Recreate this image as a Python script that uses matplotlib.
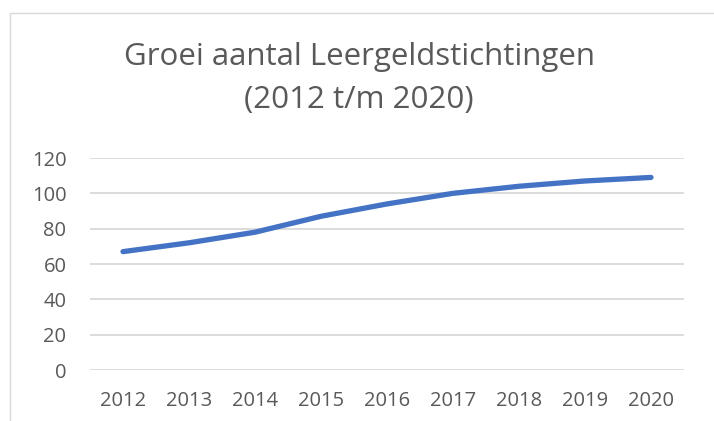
import matplotlib
matplotlib.use("Agg")
import matplotlib.pyplot as plt
from matplotlib.patches import Rectangle

years = ["2012", "2013", "2014", "2015", "2016", "2017", "2018", "2019", "2020"]
counts = [67, 72, 78, 87, 94, 100, 104, 107, 109]
yticks = [0, 20, 40, 60, 80, 100, 120]

plt.rcParams['font.family'] = ['Open Sans', 'DejaVu Sans']

W, H = 714, 421
fig = plt.figure(figsize=(W/100, H/100), dpi=100)
fig.patch.set_facecolor('white')

# chart border (cropped at right and bottom)
fig.patches.append(Rectangle((10/W, -0.1), 1.2, 1 - 13/H + 0.1, transform=fig.transFigure,
                             fill=False, edgecolor='#D9D9D9', linewidth=1.0))

ax = fig.add_axes([90/W, 1 - 370/H, (684-90)/W, (370-158)/H])
x = list(range(len(years)))
ax.plot(x, counts, color='#4472C4', linewidth=3.8, solid_capstyle='round', solid_joinstyle='round', zorder=3)
ax.set_xlim(-0.5, len(years) - 0.5)
ax.set_ylim(0, 120)
ax.set_yticks(yticks)
ax.set_xticks(x)
ax.set_xticklabels(years)
ax.grid(axis='y', color='#D9D9D9', linewidth=1.3)
ax.set_axisbelow(True)
for s in ax.spines.values():
    s.set_visible(False)
ax.tick_params(axis='both', length=0, labelcolor='#595959', labelsize=14.5)
ax.tick_params(axis='y', pad=17)
ax.tick_params(axis='x', pad=15)

fig.text(359/W, 1 - 57/H, "Groei aantal Leergeldstichtingen", ha='center', va='center',
         fontsize=22.5, color='#595959')
fig.text(359/W, 1 - 100/H, "(2012 t/m 2020)", ha='center', va='center',
         fontsize=22.5, color='#595959')

fig.savefig("out.png", dpi=100, facecolor='white')
